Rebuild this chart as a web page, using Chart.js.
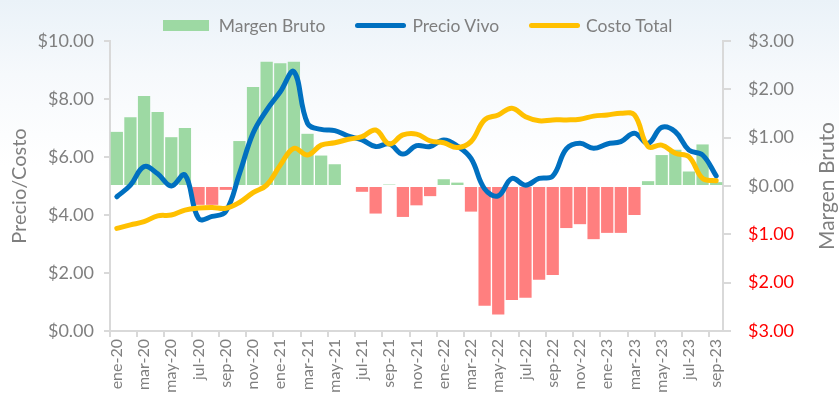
<!DOCTYPE html>
<html>
<head>
<meta charset="utf-8">
<script src="https://cdn.jsdelivr.net/npm/chart.js@4.4.1/dist/chart.umd.min.js"></script>
<style>
html,body{margin:0;padding:0;}
body{width:839px;height:414px;overflow:hidden;
 background:linear-gradient(180deg,#eaf2f8 0%,#f6f9fc 18%,#ffffff 40%);}
#wrap{width:839px;height:414px;position:relative;}
#leyenda{position:absolute;left:0;top:14px;width:835px;height:22px;display:flex;justify-content:center;align-items:center;
 font-family:Lato,"Open Sans",sans-serif;font-size:17.5px;color:#7f7f7f;}
#leyenda .item{display:flex;align-items:center;margin:0 15px;}
#leyenda .marca{display:inline-block;}
</style>
</head>
<body>
<div id="wrap"><div id="leyenda"></div><canvas id="grafica" width="839" height="414"></canvas></div>
<script>
// meses ene-20 .. sep-23
const meses = ['ene-20','feb-20','mar-20','abr-20','may-20','jun-20','jul-20','ago-20','sep-20','oct-20','nov-20','dic-20',
 'ene-21','feb-21','mar-21','abr-21','may-21','jun-21','jul-21','ago-21','sep-21','oct-21','nov-21','dic-21',
 'ene-22','feb-22','mar-22','abr-22','may-22','jun-22','jul-22','ago-22','sep-22','oct-22','nov-22','dic-22',
 'ene-23','feb-23','mar-23','abr-23','may-23','jun-23','jul-23','ago-23','sep-23']

const margenBruto = [1.12,1.42,1.86,1.53,1.01,1.20,-0.39,-0.39,-0.08,0.93,2.05,2.57,
 2.54,2.57,1.08,0.63,0.45,0,-0.12,-0.57,0.03,-0.64,-0.40,-0.21,
 0.14,0.07,-0.53,-2.48,-2.66,-2.36,-2.31,-1.94,-1.84,-0.87,-0.79,-1.10,
 -0.97,-0.97,-0.60,0.10,0.64,0.75,0.30,0.86,0.08]

const precioVivo = [4.63,5.03,5.67,5.42,5.0,5.38,3.88,3.95,4.12,5.42,6.82,7.62,
 8.25,8.94,7.16,6.95,6.91,6.72,6.59,6.36,6.45,6.10,6.39,6.36,
 6.59,6.38,5.95,4.90,4.66,5.26,5.03,5.26,5.34,6.28,6.47,6.30,
 6.45,6.53,6.82,6.47,7.02,6.87,6.24,6.07,5.35]

const costoTotal = [3.54,3.66,3.77,3.97,4.0,4.17,4.24,4.26,4.23,4.43,4.77,5.03,
 5.72,6.30,6.07,6.41,6.49,6.61,6.70,6.93,6.45,6.76,6.79,6.56,
 6.49,6.33,6.53,7.28,7.45,7.68,7.39,7.25,7.28,7.28,7.30,7.41,
 7.45,7.51,7.45,6.36,6.41,6.13,6.01,5.26,5.18]

const gris = '#7f7f7f'
const ejeColor = '#d9d9d9'
const verde = '#9dd9a3'
const rojo = '#ff7f7f'
const fuente = 'Lato, "Open Sans", sans-serif'

// titulo del eje derecho (leido de abajo hacia arriba)
const tituloDerecho = {
 id: 'tituloDerecho',
 afterDraw(chart) {
  const ctx = chart.ctx
  const area = chart.chartArea
  ctx.save()
  ctx.translate(827, (area.top + area.bottom) / 2)
  ctx.rotate(-Math.PI / 2)
  ctx.font = '21px ' + fuente
  ctx.fillStyle = gris
  ctx.textAlign = 'center'
  ctx.textBaseline = 'middle'
  ctx.fillText('Margen Bruto', 0, 0)
  ctx.restore()
 }
}

const grafica = new Chart(document.getElementById('grafica'), {
 type: 'bar',
 data: {
  labels: meses,
  datasets: [{
   type: 'bar',
   label: 'Margen Bruto',
   data: margenBruto,
   yAxisID: 'y1',
   backgroundColor: margenBruto.map(v => v < 0 ? rojo : verde),
   barPercentage: 0.9,
   categoryPercentage: 1.0,
   order: 3
  }, {
   type: 'line',
   label: 'Precio Vivo',
   data: precioVivo,
   yAxisID: 'y',
   borderColor: '#0070c0',
   backgroundColor: '#0070c0',
   borderWidth: 5,
   borderCapStyle: 'round',
   pointRadius: 0,
   tension: 0.4,
   fill: false,
   order: 2
  }, {
   type: 'line',
   label: 'Costo Total',
   data: costoTotal,
   yAxisID: 'y',
   borderColor: '#ffc000',
   backgroundColor: '#ffc000',
   borderWidth: 5,
   borderCapStyle: 'round',
   pointRadius: 0,
   tension: 0.4,
   fill: false,
   order: 1
  }]
 },
 options: {
  responsive: false,
  animation: false,
  layout: { padding: { top: 41, right: 0, bottom: 0, left: 0 } },
  plugins: {
   tooltip: { enabled: false },
   legend: { display: false }
  },
  scales: {
   x: {
    offset: true,
    afterFit: s => { s.height = 83 },
    border: { color: ejeColor, width: 2 },
    grid: {
     offset: true,
     drawOnChartArea: false,
     drawTicks: true,
     tickLength: 6,
     color: c => (c.index % 2 === 0 ? ejeColor : 'rgba(0,0,0,0)'),
     lineWidth: 2
    },
    ticks: {
     autoSkip: false,
     maxRotation: 90,
     minRotation: 90,
     padding: 2,
     color: gris,
     font: { family: fuente, size: 16 },
     callback: function(v, i) { return i % 2 === 0 ? this.getLabelForValue(v) : '' }
    }
   },
   y: {
    position: 'left',
    min: 0,
    max: 10,
    afterFit: s => { s.width = 110 },
    border: { color: ejeColor, width: 2 },
    grid: { drawOnChartArea: false, tickLength: 6, color: ejeColor, lineWidth: 2 },
    ticks: {
     stepSize: 2,
     padding: 10,
     color: gris,
     font: { family: fuente, size: 18 },
     callback: v => '$' + v.toFixed(2)
    },
    title: {
     display: true,
     text: 'Precio/Costo',
     color: gris,
     font: { family: fuente, size: 20 },
     padding: { top: 8, bottom: 0 }
    }
   },
   y1: {
    position: 'right',
    min: -3,
    max: 3,
    afterFit: s => { s.width = 116 },
    border: { color: ejeColor, width: 2 },
    grid: { drawOnChartArea: false, tickLength: 8, color: ejeColor, lineWidth: 2 },
    ticks: {
     stepSize: 1,
     padding: 17,
     color: c => (c.tick.value < 0 ? '#ff0000' : gris),
     font: { family: fuente, size: 18 },
     callback: v => '$' + Math.abs(v).toFixed(2)
    }
   }
  }
 },
 plugins: [tituloDerecho]
})

// leyenda en HTML, a partir de los datasets
const leyenda = document.getElementById('leyenda')
grafica.data.datasets.forEach(ds => {
 const item = document.createElement('span')
 item.className = 'item'
 const marca = document.createElement('span')
 marca.className = 'marca'
 if (ds.type === 'bar') {
  marca.style.cssText = 'width:46px;height:11px;margin-right:10px;background:' + verde
 } else {
  marca.style.cssText = 'width:51px;height:5px;margin-right:6px;border-radius:3px;background:' + ds.borderColor
 }
 const texto = document.createElement('span')
 texto.textContent = ds.label
 item.appendChild(marca)
 item.appendChild(texto)
 leyenda.appendChild(item)
})
</script>
</body>
</html>
